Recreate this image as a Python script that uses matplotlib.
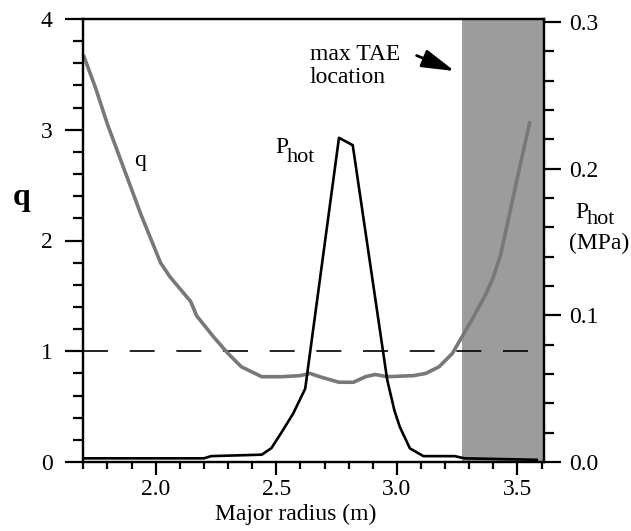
import matplotlib
matplotlib.use("Agg")
import matplotlib.pyplot as plt
from matplotlib.ticker import MultipleLocator

plt.rcParams['font.family'] = ['Liberation Serif', 'DejaVu Serif']

# safety factor q vs major radius
r_q = [1.703, 1.752, 1.80, 1.938, 2.02, 2.06, 2.145, 2.17, 2.24, 2.30, 2.355, 2.44,
       2.52, 2.60, 2.64, 2.68, 2.76, 2.82, 2.87, 2.91, 2.96, 3.07, 3.12, 3.175,
       3.23, 3.27, 3.31, 3.37, 3.40, 3.43, 3.50, 3.55]
q_vals = [3.66, 3.37, 3.05, 2.24, 1.80, 1.67, 1.45, 1.32, 1.13, 0.98, 0.86, 0.77,
          0.77, 0.78, 0.80, 0.77, 0.72, 0.72, 0.77, 0.79, 0.77, 0.78, 0.80, 0.86,
          0.98, 1.13, 1.28, 1.52, 1.67, 1.87, 2.57, 3.06]

# hot particle pressure (MPa)
r_p = [1.70, 2.20, 2.23, 2.44, 2.48, 2.52, 2.57, 2.62, 2.76, 2.817, 2.96, 2.99,
       3.012, 3.054, 3.11, 3.24, 3.28, 3.58]
p_vals = [0.0025, 0.0025, 0.004, 0.005, 0.0095, 0.0197, 0.033, 0.050, 0.221, 0.216,
          0.056, 0.035, 0.024, 0.0093, 0.004, 0.004, 0.0025, 0.0015]

tae_start = 3.27
x_min, x_max = 1.70, 3.61

fig = plt.figure(figsize=(6.31, 5.31), dpi=100)
ax = fig.add_axes([83.3 / 631, 69 / 531, 460.7 / 631, 443 / 531])
ax2 = ax.twinx()

# max TAE location region
ax.axvspan(tae_start, x_max, color='#9c9c9c', lw=0, zorder=0)

ax.axhline(1.0, color='k', lw=1.2, dashes=(15, 13), zorder=1)
ax.plot(r_q, q_vals, color='#787878', lw=2.6, zorder=2)
ax2.plot(r_p, p_vals, color='k', lw=1.9)

ax.set_xlim(x_min, x_max)
ax.set_ylim(0, 4)
ax2.set_ylim(0, 0.302)

ax.xaxis.set_major_locator(MultipleLocator(0.5))
ax.xaxis.set_minor_locator(MultipleLocator(0.1))
ax.yaxis.set_major_locator(MultipleLocator(1))
ax.yaxis.set_minor_locator(MultipleLocator(0.2))
ax2.yaxis.set_major_locator(MultipleLocator(0.1))
ax2.yaxis.set_minor_locator(MultipleLocator(0.02))
ax.set_xticks([2.0, 2.5, 3.0, 3.5])
ax.set_xticklabels(['2.0', '2.5', '3.0', '3.5'])
ax2.set_yticks([0.0, 0.1, 0.2, 0.3])
ax2.set_yticklabels(['0.0', '0.1', '0.2', '0.3'])

for s in ax.spines.values():
    s.set_linewidth(1.6)
for s in ax2.spines.values():
    s.set_linewidth(1.6)

ax.tick_params(axis='x', which='major', direction='out', length=9.5, width=1.6,
               labelsize=17, pad=2.5)
ax.tick_params(axis='x', which='minor', direction='out', length=5, width=1.6)
ax.tick_params(axis='y', which='major', direction='out', length=13, width=1.6,
               labelsize=17, pad=9)
ax.tick_params(axis='y', which='minor', direction='out', length=7, width=1.6)
ax2.tick_params(axis='y', which='major', direction='out', length=12, width=1.6,
                labelsize=17, pad=6)
ax2.tick_params(axis='y', which='minor', direction='out', length=7, width=1.6)

ax.set_xlabel('Major radius (m)', fontsize=17)
ax.xaxis.set_label_coords(0.462, -0.094)

ax.text(-0.133, 0.598, 'q', transform=ax.transAxes, fontsize=23,
        fontweight='bold', ha='center', va='center')

# P_hot labels: "hot" almost full size, just dropped a bit
ax.text(1.067, 0.551, 'P', transform=ax.transAxes, fontsize=17, va='baseline')
ax.text(1.093, 0.538, 'hot', transform=ax.transAxes, fontsize=16, va='baseline')
ax.text(1.12, 0.494, '(MPa)', transform=ax.transAxes, fontsize=17,
        ha='center', va='center')

ax.text(1.934, 2.72, 'q', fontsize=17, ha='center', va='center')
ax.text(2.495, 2.786, 'P', fontsize=17, va='baseline')
ax.text(2.545, 2.705, 'hot', fontsize=16, va='baseline')

ax.text(0.492, 0.919, 'max TAE', transform=ax.transAxes, fontsize=17,
        ha='left', va='center')
ax.text(0.492, 0.869, 'location', transform=ax.transAxes, fontsize=17,
        ha='left', va='center')
ax.annotate('', xy=(3.239, 3.53), xytext=(3.082, 3.67),
            arrowprops=dict(arrowstyle='-|>,head_length=1.0,head_width=0.28',
                            mutation_scale=20, color='k', lw=2,
                            shrinkA=0, shrinkB=0))

fig.savefig('out.png', dpi=100)
